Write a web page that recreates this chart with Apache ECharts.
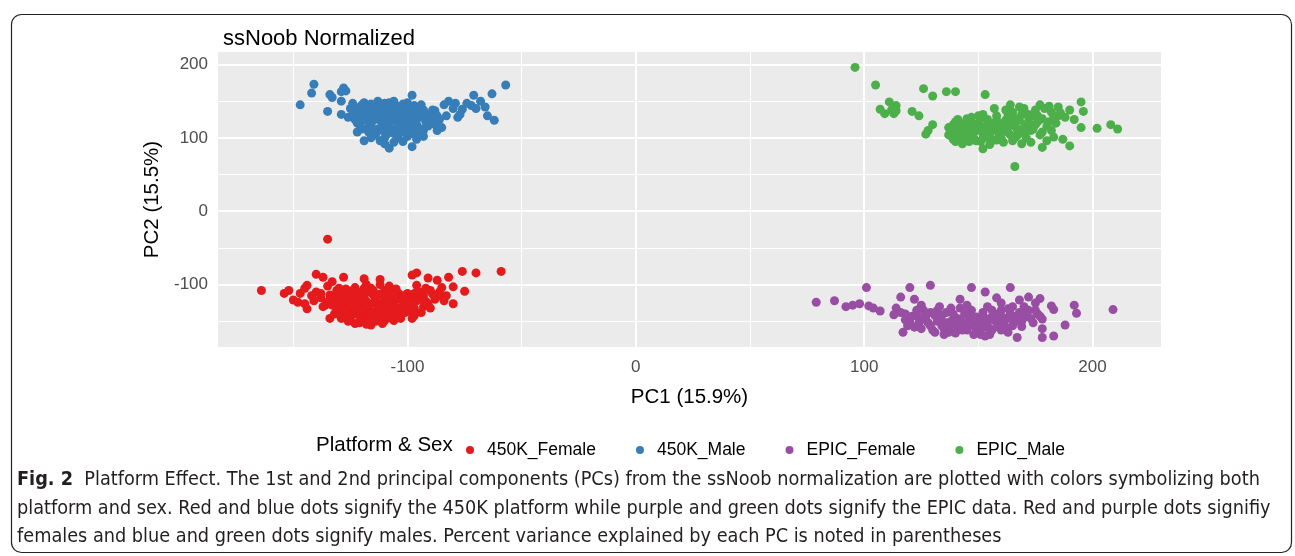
<!DOCTYPE html>
<html><head><meta charset="utf-8">
<script src="https://cdn.jsdelivr.net/npm/echarts@6/dist/echarts.min.js"></script>
<style>html,body{margin:0;padding:0;background:#fff}#c{width:1295px;height:556px}</style>
</head><body><div id="c"></div>
<script>
const seriesNames = ['450K_Female','450K_Male','EPIC_Female','EPIC_Male'];
const seriesColors = ['#E41A1C','#377EB8','#984EA3','#4DAF4A'];
const xTicks = [-100,0,100,200];
const yTicks = [-100,0,100,200];
const xGridMajor = [-100,0,100,200];
const xGridMinor = [-150,-50,50,150];
const yGridMajor = [-100,0,100,200];
const yGridMinor = [-150,-50,50,150];

const female450K = [[-164,-108],[-135,-38],[-59,-82],[-70,-84],[-76,-82],[-82,-90],[-75,-109],[-80,-126],[-80,-103],[-83,-115],[-86,-115],[-87,-94],[-91,-91],[-93,-115],[-96,-101],[-98,-87],[-96,-84],[-93,-130],[-112,-93],[-119,-92],[-128,-90],[-140,-86],[-137,-90],[-144,-101],[-145,-105],[-154,-112],[-152,-108],[-150,-121],[-148,-124],[-145,-126],[-144,-133],[-134,-146],[-129,-146],[-123,-153],[-116,-155],[-106,-149],[-98,-146],
[-90,-108],[-88,-120],[-92,-123],[-85,-104],[-95,-110],[-99,-118],[-101,-125],[-97,-132],[-103,-140],[-100,-112],
[-140,-110],[-138,-118],[-141,-122],[-135,-102],[-133,-96],[-131,-108],[-136,-128],
[-130,-115],[-128,-122],[-126,-130],[-124,-137],[-122,-110],[-121,-118],[-120,-125],[-119,-132],[-118,-140],[-117,-146],[-116,-105],[-115,-114],[-114,-121],[-113,-128],[-112,-135],[-111,-142],[-110,-108],[-109,-117],[-108,-124],[-107,-131],[-106,-138],[-105,-144],[-104,-112],[-103,-120],[-102,-128],[-127,-138],[-125,-144],[-129,-130],[-132,-124],[-131,-134],[-123,-104],[-126,-112],[-118,-100],[-112,-100],[-108,-102],[-100,-134],[-114,-150],[-120,-148],[-110,-149],[-104,-132],[-116,-126],[-122,-130],[-119,-118],[-113,-133],[-109,-139],[-125,-120],[-134,-114],[-137,-130],[-129,-140],[-121,-143],[-111,-126],[-106,-118],[-115,-138],[-117,-110],[-127,-106],
[-134,-120],[-133,-128],[-132,-140],[-130,-105],[-130,-125],[-128,-112],[-128,-134],[-127,-145],[-126,-118],[-125,-126],[-124,-108],[-123,-116],[-123,-140],[-122,-122],[-121,-136],[-120,-113],[-119,-105],[-118,-123],[-117,-131],[-116,-140],[-116,-150],[-115,-108],[-114,-117],[-113,-143],[-112,-113],[-112,-148],[-111,-131],[-110,-120],[-109,-128],[-108,-111],[-108,-145],[-107,-136],[-106,-125],[-105,-106],[-104,-138],[-103,-146],[-102,-115],[-101,-138],[-100,-122],[-99,-128],[-98,-138],[-97,-112],[-96,-122],[-121,-152],[-118,-154],[-111,-153],[-126,-150],[-131,-118],[-135,-124],[-138,-112],
[-95,-120],[-91,-126],[-89,-113],[-86,-110],[-84,-122],[-94,-138],[-92,-105],[-97,-142],[-90,-132],[-142,-115],[-147,-112]];

const male450K = [[-147,145],[-141,173],[-142,161],[-134,159],[-133,155],[-128,168],[-127,164],[-129,163],[-129,150],[-135,136],[-98,158],[-57,172],[-63,160],[-62,124],[-65,130],[-68,150],[-71,158],[-72,144],[-76,139],[-79,147],[-82,150],[-83,130],[-85,114],[-93,102],[-98,88],[-108,86],[-119,96],[-122,108],[-129,132],[-124,147],
[-70,140],[-74,147],[-66,142],[-77,132],[-80,140],[-78,128],[-86,125],[-88,137],[-84,145],[-90,120],[-87,110],
[-125,140],[-122,132],[-120,145],[-119,125],[-118,137],[-116,118],[-115,130],[-114,142],[-113,112],[-112,124],[-111,136],[-110,147],[-109,105],[-108,118],[-107,130],[-106,141],[-105,112],[-104,124],[-103,135],[-102,146],[-101,108],[-100,120],[-99,130],[-98,140],[-97,115],[-96,125],[-95,135],[-94,145],[-93,110],[-92,122],[-91,132],[-117,108],[-110,100],[-104,100],[-121,118],[-126,128],[-113,150],[-106,150],[-100,148],[-95,105],[-108,124],[-102,128],[-112,130],[-97,128],[-115,124],[-103,118],[-109,138],[-120,138],[-123,125],[-118,112],[-100,102],[-89,128],[-106,106],[-111,118],
[-124,132],[-123,142],[-122,120],[-121,128],[-120,112],[-119,148],[-118,130],[-117,140],[-117,120],[-116,110],[-116,146],[-115,136],[-114,104],[-114,126],[-113,134],[-112,144],[-111,110],[-110,122],[-110,132],[-109,141],[-108,112],[-108,148],[-107,136],[-106,124],[-105,132],[-105,144],[-104,116],[-103,108],[-103,140],[-102,122],[-101,134],[-100,112],[-100,142],[-99,124],[-98,106],[-98,132],[-97,144],[-96,118],[-95,128],[-94,112],[-93,138],[-92,130],[-91,116],[-90,126],[-89,138],[-88,118],[-87,130],[-116,100],[-112,96],[-102,95],[-96,98],[-106,94],[-110,92]];

const femaleEPIC = [[79,-124],[87,-122],[92,-130],[95,-128],[98,-126],[101,-104],[102,-129],[104,-132],[107,-136],[120,-104],[129,-101],[116,-117],[114,-132],[113,-141],[117,-165],[147,-104],[153,-110],[164,-104],[168,-121],[172,-117],[177,-119],[182,-129],[183,-134],[192,-128],[193,-139],[209,-134],[188,-155],[183,-170],[178,-172],[178,-160],[167,-172],[163,-165],[142,-120],[175,-125],[170,-130],[158,-118],[160,-125],[122,-120],[125,-128],
[118,-140],[120,-150],[122,-158],[124,-145],[126,-135],[128,-152],[130,-162],[131,-142],[133,-148],[134,-156],[136,-138],[137,-165],[138,-150],[140,-145],[141,-158],[142,-132],[143,-152],[144,-140],[145,-162],[146,-148],[147,-135],[148,-155],[149,-144],[150,-165],[151,-150],[152,-138],[153,-158],[154,-130],[155,-146],[156,-162],[157,-140],[158,-152],[160,-135],[161,-145],[162,-158],[164,-140],[165,-130],[166,-150],[168,-138],[170,-145],[172,-135],[174,-152],[176,-140],[140,-166],[135,-160],[150,-157],[145,-128],[127,-142],[132,-135],[148,-168],[155,-168],[160,-162],[169,-157],[178,-147],[124,-152],
[116,-138],[118,-148],[119,-156],[121,-143],[123,-135],[125,-160],[127,-148],[129,-138],[129,-156],[131,-165],[132,-150],[134,-142],[135,-168],[136,-152],[138,-160],[139,-140],[140,-152],[142,-147],[143,-162],[144,-134],[146,-156],[147,-143],[149,-160],[150,-148],[151,-168],[152,-142],[154,-152],[155,-160],[156,-135],[157,-148],[159,-142],[159,-158],[161,-152],[163,-133],[163,-146],[165,-156],[167,-142],[169,-150],[171,-140],[173,-146],[175,-135],[177,-143],[133,-130],[138,-132],[153,-170]];

const maleEPIC = [[96,196],[105,172],[126,167],[130,157],[136,163],[140,163],[153,159],[111,149],[114,144],[107,139],[109,133],[113,133],[112,138],[114,137],[121,136],[124,130],[130,118],[127,105],[128,110],[157,140],[164,145],[168,142],[177,145],[195,149],[196,136],[190,138],[192,125],[195,114],[202,113],[208,118],[211,112],[190,89],[187,98],[183,101],[178,87],[152,85],[166,61],[155,91],[173,94],[180,96],[185,130],[182,135],[188,128],[175,138],[172,132],
[138,110],[139,118],[140,103],[141,125],[142,112],[143,98],[144,120],[145,107],[146,115],[147,128],[148,100],[149,110],[150,120],[151,95],[152,105],[153,115],[154,125],[155,100],[156,110],[157,120],[158,130],[159,104],[160,115],[161,94],[162,124],[163,108],[164,118],[165,135],[166,100],[167,112],[168,124],[169,92],[170,106],[171,118],[172,128],[174,112],[176,122],[178,108],[180,116],[146,95],[150,130],[143,108],[158,97],[162,138],[170,140],[176,130],[184,120],[148,118],[155,113],[160,108],[165,128],[140,95],[152,132],[167,103],
[137,104],[137,114],[139,98],[140,122],[141,108],[142,118],[143,92],[144,112],[145,126],[146,102],[147,120],[148,108],[149,96],[150,114],[151,126],[152,99],[153,110],[154,118],[155,106],[156,96],[157,114],[158,124],[159,110],[160,100],[161,120],[162,112],[163,130],[164,104],[165,96],[166,116],[167,126],[168,108],[169,132],[170,114],[171,100],[172,122],[173,110],[174,130],[175,118],[177,104],[178,126],[179,140],[181,122],[182,110],[183,128],[186,134],[181,143],[185,142]];

const seriesData = [female450K, male450K, femaleEPIC, maleEPIC];

const FONT = 'Liberation Sans, Arial, sans-serif';
const CAPFONT = 'DejaVu Sans Condensed, sans-serif';
const chart = echarts.init(document.getElementById('c'), null, {renderer:'canvas'});

const gridLines = [];
xGridMajor.forEach(v => gridLines.push({xAxis: v, lineStyle:{color:'#fff', width:2, type:'solid'}}));
xGridMinor.forEach(v => gridLines.push({xAxis: v, lineStyle:{color:'#fff', width:1, type:'solid'}}));
yGridMajor.forEach(v => gridLines.push({yAxis: v, lineStyle:{color:'#fff', width:2, type:'solid'}}));
yGridMinor.forEach(v => gridLines.push({yAxis: v, lineStyle:{color:'#fff', width:1, type:'solid'}}));

const series = [{
  type:'scatter', name:'__grid', data:[], z:1, silent:true,
  markLine:{silent:true, z:1, symbol:['none','none'], label:{show:false}, animation:false, data: gridLines}
}];
seriesNames.forEach((n,i)=>{
  series.push({type:'scatter', name:n, data:seriesData[i], symbol:'circle', symbolSize:9,
    itemStyle:{color:seriesColors[i], opacity:1}, z:3, animation:false});
});

const caption = '{b|Fig. 2}  Platform Effect. The 1st and 2nd principal components (PCs) from the ssNoob normalization are plotted with colors symbolizing both\n' +
 'platform and sex. Red and blue dots signify the 450K platform while purple and green dots signify the EPIC data. Red and purple dots signifiy\n' +
 'females and blue and green dots signify males. Percent variance explained by each PC is noted in parentheses';

chart.setOption({
  animation:false,
  backgroundColor:'#fff',
  title:{text:'ssNoob Normalized', left:218, top:23, textStyle:{fontFamily:FONT, fontSize:22, fontWeight:'normal', color:'#000'}},
  grid:{left:218, right:134, top:52, bottom:209, show:true, backgroundColor:'#EBEBEB', borderWidth:0, containLabel:false},
  xAxis:{type:'value', min:-183, max:230, name:'PC1 (15.9%)', nameLocation:'middle', nameGap:40,
    nameTextStyle:{fontFamily:FONT, fontSize:20.5, color:'#000'},
    axisLine:{show:false}, splitLine:{show:false},
    axisTick:{show:true, customValues:xTicks, length:4, lineStyle:{color:'#333', width:1}},
    axisLabel:{customValues:xTicks, fontFamily:FONT, fontSize:17, color:'#4D4D4D', margin:12}},
  yAxis:{type:'value', min:-185, max:217, name:'PC2 (15.5%)', nameLocation:'middle', nameGap:50, nameRotate:90,
    nameTextStyle:{fontFamily:FONT, fontSize:20.5, color:'#000'},
    axisLine:{show:false}, splitLine:{show:false},
    axisTick:{show:true, customValues:yTicks, length:4, lineStyle:{color:'#333', width:1}},
    axisLabel:{customValues:yTicks, fontFamily:FONT, fontSize:17, color:'#4D4D4D', margin:10}},
  legend:{data:seriesNames, left:461, top:436, orient:'horizontal', icon:'circle', itemWidth:24, itemHeight:8, itemGap:40,
    textStyle:{fontFamily:FONT, fontSize:17.5, color:'#000'}},
  graphic:[
    {type:'rect', left:9, top:12, shape:{width:1280, height:538, r:10}, style:{fill:'none', stroke:'#222', lineWidth:1.2}, z:-10},
    {type:'text', left:316, top:435, style:{text:'Platform & Sex', font:'20.5px '+FONT, fill:'#000'}},
    {type:'text', left:17, top:466, style:{text:caption, font:'19.7px '+CAPFONT, fill:'#231F20', lineHeight:28.5,
      rich:{b:{font:'bold 19.7px '+CAPFONT, fill:'#231F20'}}}}
  ],
  series: series
});
</script></body></html>
